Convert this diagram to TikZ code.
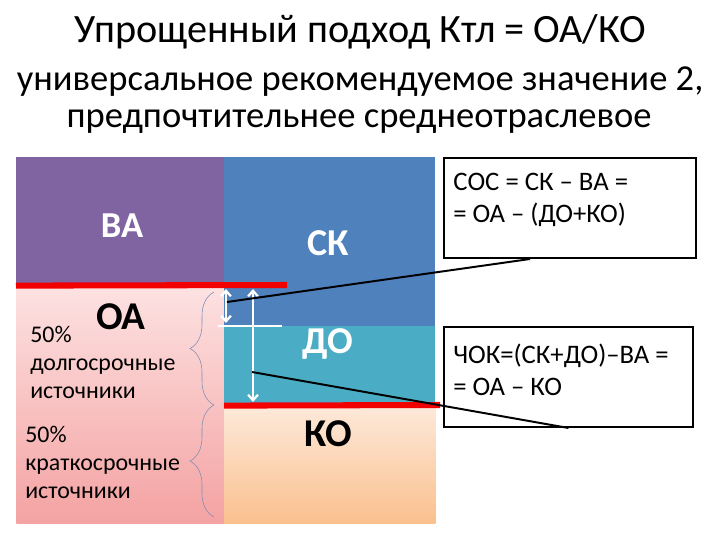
\documentclass[tikz,border=0pt]{standalone}
\usepackage{fontspec}
\setmainfont{Carlito}
\usepackage{xcolor}
\usepackage{tikz}
\usetikzlibrary{arrows.meta,positioning,decorations.pathreplacing,calc}
\definecolor{vaviolet}{HTML}{8064A2}
\definecolor{skblue}{HTML}{4F81BD}
\definecolor{doteal}{HTML}{4BACC6}
\definecolor{oatop}{HTML}{FDE2E2}
\definecolor{oabottom}{HTML}{F4A2A2}
\definecolor{kotop}{HTML}{FDE9DA}
\definecolor{kobottom}{HTML}{FAC08E}
\definecolor{bracegray}{HTML}{7F8CB4}
\definecolor{barred}{HTML}{F20000}
\tikzset{
  block/.style={inner sep=0pt, anchor=north west},
  biglabel/.style={font=\fontsize{27}{30}\selectfont\bfseries, text=white},
  sidetext/.style={font=\fontsize{17}{20}\selectfont, align=left,
    anchor=north west, inner sep=0pt},
  formula/.style={draw=black, line width=1.4pt, inner sep=0pt,
    anchor=north west, minimum width=6.3cm, minimum height=2.5cm},
  formulatext/.style={font=\fontsize{19}{22.5}\selectfont, align=left,
    inner sep=0pt},
  headline/.style={font=\fontsize{26}{26.5}\selectfont, anchor=base, inner sep=0pt},
  redbar/.style={draw=barred, line width=4.3pt},
  whitearrow/.style={{Straight Barb[length=4pt,width=7pt]}-{Straight Barb[length=4pt,width=7pt]},
    draw=white, line width=1.6pt},
  pointer/.style={draw=black, line width=1.4pt},
  bracket/.style={decorate, decoration={brace, amplitude=0.6cm}, draw=bracegray, thin},
}
\begin{document}
\begin{tikzpicture}[x=0.025cm, y=-0.025cm]
  \useasboundingbox[fill=white] (0,0) rectangle (720,540);
  % headings
  \node[headline, font=\fontsize{28.6}{30}\selectfont] (title) at (360,42) {Упрощенный подход Ктл = ОА/КО};
  \node[headline] (sub1) at (360,90) {универсальное рекомендуемое значение 2,};
  \node[headline] (sub2) at (359,127) {предпочтительнее среднеотраслевое};
  % balance blocks
  \node[block, fill=vaviolet, minimum width=5.2cm, minimum height=3.2cm] (va) at (16,157) {};
  \node[block, top color=oatop, bottom color=oabottom, minimum width=5.2cm, minimum height=5.95cm] (oa) at (16,285) {};
  \node[block, fill=skblue, minimum width=5.275cm, minimum height=4.225cm] (sk) at (224,157) {};
  \node[block, fill=doteal, minimum width=5.275cm, minimum height=1.975cm] (do) at (224,326) {};
  \node[block, top color=kotop, bottom color=kobottom, minimum width=5.275cm, minimum height=2.95cm] (ko) at (224,405) {};
  \draw[redbar] (va.south west) -- (287,285);
  \draw[redbar] (do.south west) -- (440,405);
  % labels
  \node[biglabel, font=\fontsize{26}{30}\selectfont\bfseries] (valbl) at (122,226) {ВА};
  \node[biglabel, text=black, font=\fontsize{28}{30}\selectfont\bfseries] (oalbl) at (121,317) {ОА};
  \node[biglabel] (sklbl) at (328,243) {СК};
  \node[biglabel] (dolbl) at (328,344) {ДО};
  \node[biglabel, text=black, font=\fontsize{28}{30}\selectfont\bfseries] (kolbl) at (328,434) {КО};
  \node[sidetext] (longsrc) at (30,326) {50\%\\долгосрочные\\источники};
  \node[sidetext] (shortsrc) at (25,426) {50\%\\краткосрочные\\источники};
  % braces
  \coordinate (b1) at (214,292);
  \coordinate (b2) at (214,405);
  \coordinate (b3) at (214,517);
  \draw[bracket] (b2) -- (b1);
  \draw[bracket] (b3) -- (b2);
  % white markers
  \coordinate (s1) at (226,289);
  \coordinate (s2) at (226,323);
  \coordinate (l1) at (253,289);
  \coordinate (l2) at (253,402);
  \draw[whitearrow] (s1) -- (s2);
  \draw[whitearrow] (l1) -- (l2);
  \draw[draw=white, line width=1.6pt] (218,326) -- (282,326);
  % formula boxes
  \node[formula] (sos) at (443,157) {};
  \node[formula, minimum width=6.225cm] (chok) at (443,326) {};
  \node[formulatext, below right=0.4cm and 0.25cm of sos.north west, anchor=north west] (sostext) {СОС = СК – ВА =\\= ОА – (ДО+КО)};
  \node[formulatext, below right=0.45cm and 0.25cm of chok.north west, anchor=north west] (choktext) {ЧОК=(СК+ДО)–ВА =\\= ОА – КО};
  % pointers
  \coordinate (p1) at (227,302);
  \coordinate (p2) at (252,372);
  \draw[pointer] (p1) -- ([xshift=-1cm]sos.south);
  \draw[pointer] (p2) -- (chok.south);
\end{tikzpicture}
\end{document}
